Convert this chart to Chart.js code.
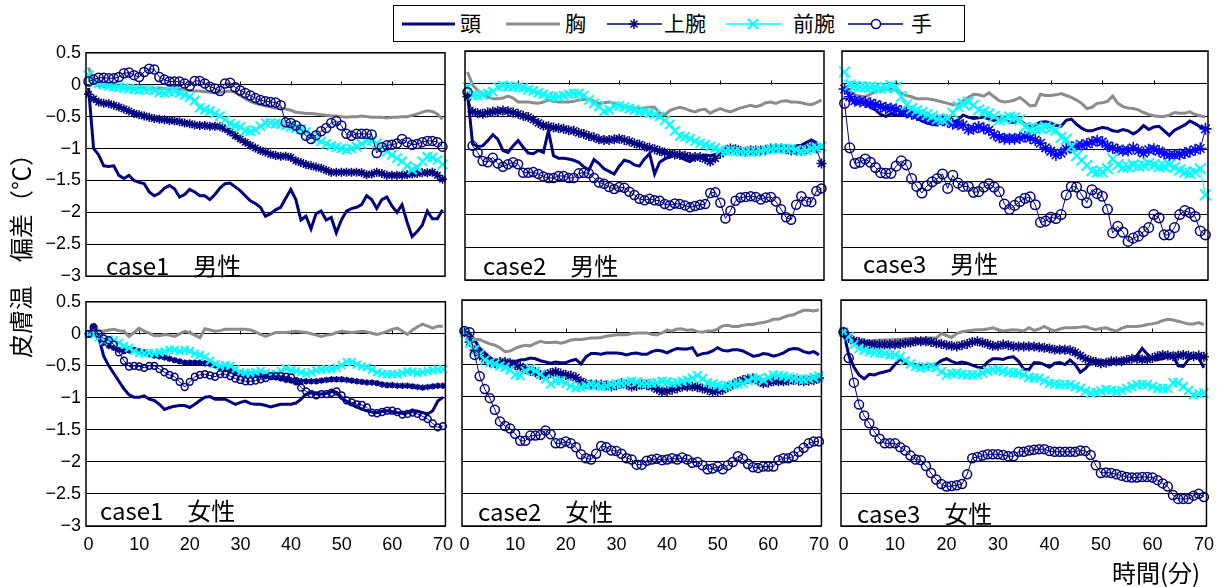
<!DOCTYPE html>
<html>
<head>
<meta charset="utf-8">
<script src="https://cdn.jsdelivr.net/npm/chart.js@4.4.1/dist/chart.umd.min.js"></script>
<style>
  body { margin: 0; width: 1220px; height: 587px; background: #fff; position: relative; overflow: hidden;
         font-family: "Noto Sans CJK JP", sans-serif; color: #000; }
  canvas { position: absolute; }
  .case { position: absolute; font-size: 24px; line-height: 24px; white-space: pre; }
  .leg { position: absolute; top: 6px; font-size: 21px; line-height: 21px; white-space: pre; }
</style>
</head>
<body>

<div id="legend" style="position:absolute;left:393px;top:5px;width:570px;height:35px;border:1px solid #000;">
  <svg width="570" height="35" style="position:absolute;left:0;top:0">
    <line x1="8" y1="18" x2="61" y2="18" stroke="#000080" stroke-width="3"/>
    <line x1="112" y1="18" x2="166" y2="18" stroke="#8c8c8c" stroke-width="3"/>
    <line x1="213" y1="18" x2="268" y2="18" stroke="#000080" stroke-width="1.5"/>
    <path d="M235 18 H245 M240 13 V23 M236.5 14.5 L243.5 21.5 M243.5 14.5 L236.5 21.5" stroke="#000080" stroke-width="1.5"/>
    <line x1="332" y1="18" x2="387" y2="18" stroke="#00ffff" stroke-width="1.5"/>
    <path d="M354 13 L364 23 M364 13 L354 23" stroke="#00ffff" stroke-width="2"/>
    <line x1="454" y1="18" x2="509" y2="18" stroke="#000080" stroke-width="1.5"/>
    <circle cx="482" cy="18" r="4.5" fill="#fff" stroke="#000080" stroke-width="1.5"/>
  </svg>
  <span class="leg" style="left:66px">頭</span>
  <span class="leg" style="left:171px">胸</span>
  <span class="leg" style="left:270px">上腕</span>
  <span class="leg" style="left:399px">前腕</span>
  <span class="leg" style="left:517px">手</span>
</div>

<canvas id="c1m"></canvas>
<canvas id="c2m"></canvas>
<canvas id="c3m"></canvas>
<canvas id="c1f"></canvas>
<canvas id="c2f"></canvas>
<canvas id="c3f"></canvas>

<div class="case" style="left:106px;top:253px">case1　男性</div>
<div class="case" style="left:483px;top:253px">case2　男性</div>
<div class="case" style="left:863px;top:251px">case3　男性</div>
<div class="case" style="left:100px;top:498px">case1　女性</div>
<div class="case" style="left:478px;top:499px">case2　女性</div>
<div class="case" style="left:857px;top:501px">case3　女性</div>

<div style="position:absolute;left:-95px;top:238px;width:230px;text-align:center;font-size:24px;line-height:24px;transform:rotate(-90deg);white-space:pre">皮膚温　偏差（℃）</div>
<div style="position:absolute;left:1112px;top:560px;font-size:24px;line-height:24px;white-space:pre">時間(分)</div>

<script>
// time axis (minutes)
const minutes = [0,1,2,3,4,5,6,7,8,9,10,11,12,13,14,15,16,17,18,19,20,21,22,23,24,25,26,27,28,29,30,
  31,32,33,34,35,36,37,38,39,40,41,42,43,44,45,46,47,48,49,50,51,52,53,54,55,56,57,58,59,60,
  61,62,63,64,65,66,67,68,69,70];
const xTicks = [0, 10, 20, 30, 40, 50, 60, 70];
const yTicks = [0.5, 0, -0.5, -1, -1.5, -2, -2.5, -3];
const yTickLabels = ['0.5', '0', '\u22120.5', '\u22121', '\u22121.5', '\u22122', '\u22122.5', '\u22123'];
const seriesNames = ['頭', '胸', '上腕', '前腕', '手'];

// case1 male
const c1mHead = [-0.05,-1.0,-1.1,-1.27,-1.28,-1.27,-1.42,-1.47,-1.42,-1.5,
  -1.53,-1.55,-1.68,-1.74,-1.7,-1.62,-1.58,-1.63,-1.76,-1.72,
  -1.64,-1.68,-1.74,-1.74,-1.8,-1.72,-1.62,-1.55,-1.54,-1.6,
  -1.66,-1.74,-1.82,-1.86,-1.92,-2.06,-2.02,-1.96,-1.92,-1.78,
  -1.64,-1.8,-2.12,-2.06,-2.26,-2.02,-1.98,-2.12,-2.08,-2.32,
  -2.12,-1.98,-1.94,-1.92,-1.88,-1.74,-1.8,-1.94,-1.8,-1.76,
  -1.9,-2.0,-1.88,-2.15,-2.38,-2.3,-2.2,-1.98,-2.1,-2.1,-1.96];
const c1mChest = [0.27,0.05,-0.02,-0.03,-0.02,-0.03,-0.04,-0.04,-0.05,-0.06,
  -0.05,-0.06,-0.07,-0.06,-0.05,-0.06,-0.07,-0.06,-0.07,-0.08,
  -0.09,-0.1,-0.1,-0.11,-0.12,-0.13,-0.12,-0.11,-0.1,-0.12,
  -0.17,-0.22,-0.26,-0.29,-0.31,-0.33,-0.35,-0.37,-0.37,-0.38,
  -0.4,-0.43,-0.44,-0.45,-0.45,-0.46,-0.47,-0.48,-0.49,-0.49,
  -0.5,-0.51,-0.5,-0.5,-0.49,-0.5,-0.51,-0.51,-0.51,-0.52,
  -0.51,-0.51,-0.5,-0.5,-0.48,-0.46,-0.43,-0.41,-0.42,-0.46,-0.54];
const c1mUpper = [-0.15,-0.22,-0.27,-0.29,-0.3,-0.32,-0.35,-0.38,-0.41,-0.45,
  -0.47,-0.49,-0.51,-0.53,-0.54,-0.55,-0.56,-0.57,-0.58,-0.6,
  -0.61,-0.63,-0.64,-0.64,-0.65,-0.65,-0.66,-0.69,-0.74,-0.8,
  -0.85,-0.9,-0.95,-0.99,-1.03,-1.06,-1.09,-1.11,-1.12,-1.12,
  -1.14,-1.19,-1.22,-1.25,-1.27,-1.29,-1.31,-1.34,-1.37,-1.37,
  -1.37,-1.37,-1.37,-1.37,-1.38,-1.41,-1.4,-1.37,-1.39,-1.42,
  -1.42,-1.42,-1.42,-1.41,-1.4,-1.39,-1.38,-1.38,-1.37,-1.42,-1.48];
const c1mFore = [0.15,0.04,0.02,0.0,-0.02,-0.03,-0.04,-0.05,-0.06,-0.07,
  -0.08,-0.08,-0.08,-0.09,-0.12,-0.13,-0.11,-0.1,-0.13,-0.16,
  -0.19,-0.25,-0.36,-0.39,-0.41,-0.45,-0.49,-0.55,-0.61,-0.64,
  -0.66,-0.72,-0.73,-0.71,-0.65,-0.6,-0.6,-0.61,-0.62,-0.64,
  -0.66,-0.68,-0.7,-0.74,-0.8,-0.85,-0.89,-0.93,-0.96,-0.98,
  -1.0,-1.02,-1.0,-0.97,-0.93,-0.88,-0.88,-0.92,-0.98,-1.05,
  -1.1,-1.15,-1.2,-1.27,-1.33,-1.3,-1.2,-1.13,-1.14,-1.18,-1.25];
const c1mHand = [0.05,0.08,0.11,0.11,0.1,0.1,0.12,0.18,0.19,0.15,
  0.12,0.2,0.25,0.24,0.12,0.08,0.05,0.05,0.05,0.02,
  -0.02,0.06,0.06,0.02,-0.03,-0.06,-0.1,0.02,0.03,-0.04,
  -0.09,-0.13,-0.17,-0.21,-0.24,-0.26,-0.27,-0.28,-0.32,-0.59,
  -0.6,-0.64,-0.7,-0.8,-0.85,-0.79,-0.73,-0.68,-0.6,-0.57,
  -0.64,-0.77,-0.8,-0.77,-0.77,-0.77,-0.78,-1.07,-0.98,-0.95,
  -0.94,-0.92,-0.85,-0.9,-0.94,-0.93,-0.9,-0.88,-0.88,-0.9,-0.97];

// case2 male
const c2mHead = [-0.15,-0.92,-0.96,-0.95,-0.87,-0.78,-0.85,-1.02,-1.05,-0.95,
  -0.87,-0.97,-1.06,-1.07,-1.02,-1.05,-0.72,-1.1,-1.14,-1.14,
  -1.15,-1.17,-1.2,-1.27,-1.32,-1.16,-1.22,-1.3,-1.34,-1.38,
  -1.26,-1.17,-1.19,-1.24,-1.26,-1.15,-1.07,-1.38,-1.2,-1.15,
  -1.12,-1.08,-1.12,-1.16,-1.19,-1.14,-1.11,-1.09,-1.1,-1.08,
  -1.06,-1.04,-1.02,-1.0,-1.0,-1.02,-1.0,-0.99,-1.0,-1.01,
  -1.0,-0.98,-0.98,-1.0,-0.97,-0.95,-0.94,-0.9,-0.86,-0.9,-0.98];
const c2mChest = [0.18,-0.02,-0.1,-0.16,-0.2,-0.23,-0.23,-0.22,-0.19,-0.22,
  -0.28,-0.28,-0.28,-0.29,-0.3,-0.28,-0.25,-0.27,-0.28,-0.28,
  -0.28,-0.27,-0.25,-0.24,-0.23,-0.27,-0.3,-0.29,-0.28,-0.3,
  -0.33,-0.35,-0.36,-0.37,-0.38,-0.37,-0.36,-0.36,-0.45,-0.48,
  -0.41,-0.38,-0.36,-0.38,-0.41,-0.43,-0.4,-0.39,-0.45,-0.41,
  -0.38,-0.41,-0.43,-0.4,-0.37,-0.35,-0.33,-0.35,-0.33,-0.29,
  -0.28,-0.3,-0.27,-0.26,-0.28,-0.28,-0.29,-0.31,-0.32,-0.29,-0.25];
const c2mUpper = [-0.2,-0.43,-0.45,-0.46,-0.44,-0.43,-0.42,-0.41,-0.42,-0.44,
  -0.46,-0.49,-0.51,-0.55,-0.6,-0.64,-0.65,-0.67,-0.68,-0.69,
  -0.71,-0.72,-0.75,-0.77,-0.8,-0.82,-0.85,-0.86,-0.86,-0.85,
  -0.84,-0.86,-0.88,-0.91,-0.93,-0.96,-0.98,-1.0,-1.03,-1.05,
  -1.07,-1.08,-1.09,-1.1,-1.12,-1.12,-1.12,-1.15,-1.19,-1.14,
  -1.07,-1.02,-0.99,-1.0,-1.03,-1.04,-1.02,-1.02,-1.02,-1.01,
  -0.99,-0.99,-0.99,-1.0,-1.02,-1.02,-1.02,-1.0,-0.97,-0.99,-1.22];
const c2mFore = [-0.05,-0.18,-0.18,-0.17,-0.15,-0.12,-0.05,-0.03,-0.04,-0.05,
  -0.05,-0.06,-0.09,-0.11,-0.14,-0.16,-0.19,-0.2,-0.2,-0.18,
  -0.16,-0.15,-0.15,-0.18,-0.25,-0.3,-0.35,-0.42,-0.4,-0.34,
  -0.34,-0.36,-0.38,-0.4,-0.42,-0.43,-0.45,-0.47,-0.5,-0.56,
  -0.62,-0.72,-0.8,-0.81,-0.84,-0.88,-0.91,-0.93,-0.96,-0.98,
  -1.02,-1.03,-1.02,-1.03,-1.04,-1.04,-1.04,-1.04,-1.03,-1.01,
  -1.0,-0.99,-0.99,-0.99,-0.99,-1.01,-1.03,-1.02,-0.99,-0.98,-0.96];
const c2mHand = [-0.13,-0.95,-1.05,-1.18,-1.2,-1.13,-1.22,-1.27,-1.23,-1.2,
  -1.23,-1.36,-1.36,-1.35,-1.38,-1.42,-1.44,-1.44,-1.41,-1.41,
  -1.44,-1.44,-1.37,-1.36,-1.37,-1.44,-1.51,-1.53,-1.58,-1.61,
  -1.58,-1.59,-1.65,-1.7,-1.76,-1.78,-1.76,-1.78,-1.79,-1.84,
  -1.86,-1.83,-1.84,-1.86,-1.89,-1.87,-1.85,-1.84,-1.67,-1.66,
  -1.82,-2.06,-1.94,-1.79,-1.74,-1.73,-1.72,-1.73,-1.77,-1.74,
  -1.73,-1.8,-1.92,-2.04,-2.08,-1.85,-1.72,-1.8,-1.81,-1.64,-1.6];

// case3 male
const c3mHead = [-0.05,-0.2,-0.3,-0.27,-0.29,-0.36,-0.4,-0.47,-0.5,-0.46,
  -0.48,-0.47,-0.46,-0.48,-0.52,-0.57,-0.6,-0.62,-0.63,-0.57,
  -0.57,-0.61,-0.55,-0.48,-0.51,-0.53,-0.52,-0.51,-0.54,-0.56,
  -0.54,-0.54,-0.59,-0.59,-0.56,-0.62,-0.66,-0.63,-0.59,-0.58,
  -0.6,-0.64,-0.65,-0.56,-0.54,-0.62,-0.68,-0.72,-0.72,-0.69,
  -0.67,-0.68,-0.72,-0.73,-0.7,-0.72,-0.77,-0.72,-0.64,-0.7,
  -0.66,-0.65,-0.72,-0.79,-0.71,-0.67,-0.63,-0.57,-0.61,-0.66,-0.69];
const c3mChest = [-0.05,-0.12,-0.17,-0.19,-0.2,-0.16,-0.12,-0.1,-0.08,-0.08,
  -0.1,-0.14,-0.18,-0.2,-0.23,-0.23,-0.23,-0.24,-0.26,-0.28,
  -0.3,-0.32,-0.32,-0.26,-0.21,-0.16,-0.17,-0.19,-0.14,-0.2,
  -0.26,-0.28,-0.27,-0.25,-0.21,-0.27,-0.34,-0.33,-0.16,-0.18,
  -0.18,-0.17,-0.15,-0.18,-0.21,-0.25,-0.3,-0.38,-0.36,-0.3,
  -0.29,-0.27,-0.19,-0.3,-0.35,-0.37,-0.38,-0.4,-0.44,-0.47,
  -0.49,-0.5,-0.5,-0.48,-0.44,-0.45,-0.45,-0.43,-0.47,-0.49,-0.51];
const c3mUpper = [-0.08,-0.2,-0.26,-0.27,-0.28,-0.3,-0.32,-0.35,-0.37,-0.38,
  -0.39,-0.42,-0.44,-0.46,-0.48,-0.5,-0.53,-0.56,-0.56,-0.56,
  -0.58,-0.61,-0.62,-0.63,-0.7,-0.69,-0.66,-0.68,-0.71,-0.78,
  -0.82,-0.84,-0.84,-0.84,-0.83,-0.81,-0.83,-0.86,-0.91,-0.98,
  -1.03,-1.09,-1.06,-1.0,-0.97,-0.95,-0.94,-0.92,-0.89,-0.87,
  -0.89,-0.95,-0.98,-1.01,-1.02,-1.02,-0.98,-1.02,-1.06,-1.01,
  -1.0,-1.03,-1.07,-1.09,-1.09,-1.08,-1.06,-1.04,-1.01,-0.99,-0.69];
const c3mFore = [0.18,-0.02,-0.04,-0.05,-0.05,-0.05,-0.06,-0.07,-0.06,-0.03,
  -0.05,-0.2,-0.32,-0.38,-0.41,-0.44,-0.47,-0.5,-0.54,-0.55,
  -0.53,-0.45,-0.35,-0.31,-0.28,-0.33,-0.4,-0.43,-0.46,-0.5,
  -0.56,-0.54,-0.51,-0.52,-0.55,-0.66,-0.69,-0.69,-0.68,-0.66,
  -0.68,-0.71,-0.82,-0.85,-0.96,-1.1,-1.17,-1.25,-1.33,-1.35,
  -1.35,-1.3,-1.15,-1.24,-1.28,-1.27,-1.24,-1.26,-1.25,-1.22,
  -1.24,-1.27,-1.26,-1.24,-1.28,-1.32,-1.35,-1.37,-1.35,-1.3,-1.7];
const c3mHand = [-0.3,-0.98,-1.22,-1.2,-1.15,-1.2,-1.28,-1.36,-1.37,-1.37,
  -1.26,-1.18,-1.24,-1.45,-1.57,-1.67,-1.56,-1.5,-1.45,-1.38,
  -1.6,-1.4,-1.52,-1.57,-1.57,-1.66,-1.65,-1.58,-1.53,-1.58,
  -1.65,-1.84,-1.92,-1.86,-1.8,-1.75,-1.73,-1.85,-2.12,-2.1,
  -2.04,-2.06,-2.0,-1.7,-1.57,-1.58,-1.7,-1.82,-1.62,-1.68,
  -1.72,-1.92,-2.28,-2.18,-2.27,-2.41,-2.36,-2.33,-2.26,-2.2,
  -2.0,-2.05,-2.31,-2.31,-2.2,-2.0,-1.94,-1.97,-2.03,-2.25,-2.31];

// case1 female
const c1fHead = [0.0,0.1,-0.05,-0.35,-0.5,-0.62,-0.74,-0.86,-0.95,-0.99,
  -0.99,-0.97,-1.02,-1.04,-1.1,-1.18,-1.15,-1.13,-1.12,-1.12,
  -1.15,-1.1,-1.04,-0.99,-0.98,-1.02,-1.02,-1.02,-1.06,-1.1,
  -1.07,-1.05,-1.09,-1.1,-1.1,-1.12,-1.14,-1.12,-1.1,-1.1,
  -1.1,-1.08,-1.02,-0.94,-0.92,-0.93,-0.94,-0.93,-0.9,-0.91,
  -1.01,-1.06,-1.1,-1.14,-1.18,-1.2,-1.22,-1.23,-1.21,-1.2,
  -1.22,-1.23,-1.24,-1.23,-1.2,-1.21,-1.23,-1.25,-1.2,-1.05,-0.99];
const c1fChest = [0.0,0.09,0.05,0.04,0.06,0.07,0.05,0.04,-0.04,0.02,
  0.09,0.04,0.01,-0.03,-0.03,-0.01,-0.02,-0.04,0.0,0.04,
  0.02,-0.02,-0.06,0.08,0.06,0.04,0.05,0.07,0.07,0.07,
  0.07,0.07,0.06,0.03,-0.01,-0.04,-0.01,0.02,0.02,0.02,
  0.03,0.04,0.03,0.02,0.0,-0.02,-0.04,-0.02,-0.01,0.02,
  0.04,0.03,0.02,0.03,0.04,0.03,0.01,-0.01,0.01,0.04,
  0.07,0.09,0.04,-0.01,0.06,0.11,0.15,0.12,0.09,0.12,0.12];
const c1fUpper = [0.0,0.12,-0.05,-0.14,-0.19,-0.22,-0.25,-0.27,-0.26,-0.25,
  -0.27,-0.29,-0.32,-0.34,-0.35,-0.37,-0.39,-0.41,-0.43,-0.45,
  -0.45,-0.45,-0.45,-0.46,-0.47,-0.49,-0.52,-0.55,-0.57,-0.6,
  -0.62,-0.63,-0.63,-0.64,-0.65,-0.66,-0.67,-0.68,-0.7,-0.72,
  -0.73,-0.74,-0.74,-0.74,-0.74,-0.74,-0.73,-0.72,-0.71,-0.71,
  -0.71,-0.72,-0.73,-0.74,-0.75,-0.76,-0.76,-0.77,-0.79,-0.8,
  -0.8,-0.81,-0.81,-0.81,-0.82,-0.83,-0.84,-0.83,-0.82,-0.81,-0.81];
const c1fFore = [0.0,-0.01,-0.06,-0.11,-0.09,-0.1,-0.14,-0.19,-0.22,-0.27,
  -0.3,-0.3,-0.3,-0.3,-0.29,-0.28,-0.25,-0.25,-0.27,-0.25,
  -0.27,-0.31,-0.33,-0.36,-0.42,-0.47,-0.5,-0.49,-0.5,-0.55,
  -0.6,-0.61,-0.61,-0.6,-0.58,-0.61,-0.63,-0.63,-0.58,-0.54,
  -0.57,-0.58,-0.6,-0.62,-0.6,-0.57,-0.56,-0.55,-0.55,-0.53,
  -0.49,-0.44,-0.44,-0.48,-0.51,-0.52,-0.56,-0.6,-0.62,-0.63,
  -0.63,-0.63,-0.61,-0.59,-0.59,-0.61,-0.6,-0.58,-0.57,-0.56,-0.55];
const c1fHand = [0.0,0.1,0.0,-0.07,-0.1,-0.17,-0.29,-0.42,-0.51,-0.5,
  -0.51,-0.53,-0.5,-0.5,-0.55,-0.6,-0.64,-0.67,-0.75,-0.83,
  -0.75,-0.67,-0.64,-0.63,-0.65,-0.67,-0.63,-0.63,-0.66,-0.7,
  -0.72,-0.74,-0.74,-0.73,-0.71,-0.69,-0.66,-0.66,-0.66,-0.67,
  -0.68,-0.74,-0.84,-0.9,-0.94,-0.96,-0.94,-0.94,-0.92,-0.9,
  -0.96,-1.04,-1.07,-1.1,-1.11,-1.15,-1.23,-1.24,-1.22,-1.2,
  -1.2,-1.22,-1.26,-1.25,-1.23,-1.25,-1.29,-1.33,-1.4,-1.46,-1.44];

// case2 female
const c2fHead = [0.0,-0.02,-0.12,-0.25,-0.32,-0.39,-0.44,-0.45,-0.45,-0.45,
  -0.45,-0.43,-0.42,-0.4,-0.41,-0.44,-0.46,-0.48,-0.46,-0.47,
  -0.47,-0.44,-0.42,-0.49,-0.38,-0.33,-0.33,-0.34,-0.32,-0.32,
  -0.32,-0.33,-0.35,-0.33,-0.32,-0.34,-0.34,-0.3,-0.28,-0.29,
  -0.32,-0.28,-0.25,-0.26,-0.26,-0.24,-0.36,-0.33,-0.32,-0.29,
  -0.24,-0.28,-0.29,-0.27,-0.27,-0.29,-0.33,-0.37,-0.36,-0.33,
  -0.34,-0.37,-0.35,-0.32,-0.27,-0.25,-0.26,-0.3,-0.32,-0.3,-0.35];
const c2fChest = [0.0,-0.08,-0.11,-0.11,-0.15,-0.18,-0.2,-0.24,-0.3,-0.29,
  -0.25,-0.22,-0.2,-0.21,-0.17,-0.14,-0.16,-0.16,-0.15,-0.17,
  -0.15,-0.12,-0.11,-0.11,-0.1,-0.09,-0.09,-0.08,-0.06,-0.05,
  -0.04,-0.04,-0.04,-0.02,-0.01,-0.01,-0.01,-0.03,-0.04,-0.01,
  0.03,0.02,0.05,0.05,0.03,0.04,0.01,0.0,0.02,0.02,
  0.05,0.1,0.11,0.09,0.09,0.11,0.12,0.12,0.14,0.15,
  0.17,0.2,0.2,0.23,0.26,0.27,0.31,0.34,0.34,0.33,0.35];
const c2fUpper = [0.0,-0.15,-0.28,-0.36,-0.41,-0.46,-0.48,-0.46,-0.46,-0.48,
  -0.51,-0.53,-0.57,-0.6,-0.62,-0.66,-0.66,-0.63,-0.61,-0.64,
  -0.66,-0.67,-0.7,-0.76,-0.8,-0.81,-0.81,-0.81,-0.82,-0.84,
  -0.82,-0.79,-0.81,-0.84,-0.83,-0.81,-0.82,-0.84,-0.88,-0.92,
  -0.91,-0.89,-0.87,-0.84,-0.84,-0.84,-0.85,-0.87,-0.89,-0.92,
  -0.91,-0.89,-0.85,-0.81,-0.77,-0.74,-0.72,-0.71,-0.75,-0.79,
  -0.78,-0.76,-0.76,-0.76,-0.75,-0.74,-0.75,-0.76,-0.75,-0.74,-0.71];
const c2fFore = [0.0,-0.17,-0.27,-0.34,-0.43,-0.47,-0.49,-0.52,-0.54,-0.58,
  -0.66,-0.67,-0.6,-0.56,-0.6,-0.65,-0.72,-0.8,-0.75,-0.75,
  -0.79,-0.83,-0.86,-0.85,-0.83,-0.81,-0.82,-0.84,-0.83,-0.81,
  -0.8,-0.79,-0.78,-0.76,-0.77,-0.79,-0.79,-0.79,-0.78,-0.76,
  -0.77,-0.79,-0.78,-0.76,-0.74,-0.71,-0.67,-0.72,-0.78,-0.8,
  -0.82,-0.84,-0.83,-0.81,-0.8,-0.79,-0.75,-0.71,-0.72,-0.74,
  -0.7,-0.66,-0.67,-0.68,-0.7,-0.71,-0.73,-0.73,-0.72,-0.7,-0.68];
const c2fHand = [0.02,0.0,-0.35,-0.68,-0.88,-1.02,-1.2,-1.38,-1.45,-1.49,
  -1.57,-1.68,-1.68,-1.6,-1.6,-1.59,-1.52,-1.58,-1.72,-1.72,
  -1.69,-1.72,-1.78,-1.89,-1.95,-1.97,-1.88,-1.76,-1.78,-1.83,
  -1.84,-1.88,-1.95,-1.97,-2.05,-2.05,-1.99,-1.97,-1.96,-1.98,
  -1.97,-1.95,-1.97,-1.94,-1.97,-2.02,-2.01,-2.06,-2.12,-2.11,
  -2.08,-2.12,-2.06,-2.01,-1.92,-1.96,-2.04,-2.09,-2.1,-2.08,
  -2.08,-2.08,-1.98,-1.95,-1.95,-1.92,-1.85,-1.79,-1.72,-1.69,-1.69];

// case3 female
const c3fHead = [0.0,-0.35,-0.54,-0.66,-0.72,-0.65,-0.66,-0.63,-0.61,-0.59,
  -0.5,-0.41,-0.47,-0.49,-0.5,-0.53,-0.54,-0.52,-0.5,-0.44,
  -0.41,-0.45,-0.48,-0.46,-0.48,-0.51,-0.54,-0.55,-0.46,-0.41,
  -0.41,-0.42,-0.39,-0.38,-0.45,-0.57,-0.58,-0.47,-0.47,-0.5,
  -0.54,-0.48,-0.47,-0.5,-0.43,-0.5,-0.62,-0.56,-0.46,-0.43,
  -0.45,-0.45,-0.45,-0.44,-0.42,-0.42,-0.41,-0.36,-0.25,-0.34,
  -0.41,-0.42,-0.41,-0.38,-0.36,-0.52,-0.53,-0.42,-0.38,-0.4,-0.55];
const c3fChest = [0.0,-0.08,-0.12,-0.13,-0.14,-0.14,-0.13,-0.12,-0.12,-0.12,
  -0.11,-0.11,-0.1,-0.1,-0.1,-0.1,-0.09,-0.09,-0.09,-0.02,
  -0.05,-0.08,-0.02,0.01,0.02,0.03,0.04,0.04,0.05,0.07,
  0.04,0.02,0.03,0.04,0.03,0.02,0.07,0.03,0.05,0.09,
  0.05,0.02,0.05,0.07,0.07,0.07,0.08,0.09,0.06,0.04,
  0.06,0.07,0.04,0.02,0.06,0.09,0.09,0.09,0.1,0.12,
  0.13,0.15,0.18,0.2,0.19,0.17,0.15,0.13,0.13,0.15,0.12];
const c3fUpper = [0.0,-0.09,-0.13,-0.15,-0.17,-0.18,-0.19,-0.19,-0.19,-0.19,
  -0.19,-0.18,-0.17,-0.16,-0.14,-0.14,-0.14,-0.15,-0.17,-0.18,
  -0.2,-0.21,-0.22,-0.2,-0.18,-0.15,-0.14,-0.16,-0.18,-0.21,
  -0.21,-0.19,-0.2,-0.22,-0.22,-0.22,-0.22,-0.22,-0.23,-0.24,
  -0.25,-0.27,-0.27,-0.27,-0.28,-0.31,-0.36,-0.41,-0.44,-0.46,
  -0.48,-0.47,-0.45,-0.45,-0.45,-0.43,-0.41,-0.41,-0.42,-0.42,
  -0.4,-0.37,-0.35,-0.36,-0.37,-0.36,-0.35,-0.36,-0.37,-0.36,-0.38];
const c3fFore = [0.0,-0.07,-0.19,-0.25,-0.28,-0.3,-0.32,-0.32,-0.33,-0.35,
  -0.35,-0.38,-0.44,-0.49,-0.53,-0.55,-0.54,-0.53,-0.55,-0.61,
  -0.66,-0.64,-0.63,-0.65,-0.66,-0.66,-0.66,-0.63,-0.6,-0.58,
  -0.58,-0.6,-0.62,-0.63,-0.63,-0.66,-0.7,-0.71,-0.71,-0.75,
  -0.79,-0.8,-0.81,-0.81,-0.81,-0.84,-0.87,-0.91,-0.94,-0.93,
  -0.91,-0.89,-0.9,-0.92,-0.9,-0.87,-0.84,-0.81,-0.81,-0.81,
  -0.84,-0.87,-0.87,-0.87,-0.78,-0.78,-0.84,-0.9,-0.97,-0.95,-0.94];
const c3fHand = [0.0,-0.4,-0.78,-1.12,-1.29,-1.41,-1.54,-1.65,-1.72,-1.72,
  -1.72,-1.78,-1.83,-1.91,-1.97,-1.98,-2.07,-2.18,-2.28,-2.35,
  -2.39,-2.38,-2.37,-2.35,-2.2,-1.95,-1.93,-1.91,-1.89,-1.89,
  -1.89,-1.9,-1.92,-1.92,-1.85,-1.85,-1.83,-1.82,-1.81,-1.81,
  -1.84,-1.85,-1.85,-1.85,-1.85,-1.85,-1.83,-1.84,-1.9,-2.06,
  -2.18,-2.17,-2.18,-2.2,-2.22,-2.24,-2.25,-2.25,-2.24,-2.24,
  -2.25,-2.29,-2.34,-2.39,-2.52,-2.58,-2.58,-2.58,-2.53,-2.5,-2.55];

const NAVY = '#000080';
const GRAY = '#8c8c8c';
const CYAN = '#00ffff';

Chart.defaults.font.family = '"Liberation Sans", Arial, sans-serif';
Chart.defaults.color = '#000';

// box around the plot area and the little ticks on the zero line
const framePlugin = {
  id: 'frame',
  beforeDatasetsDraw(chart) {
    const { ctx, scales } = chart;
    const y0 = Math.round(scales.y.getPixelForValue(0)) + 0.5;
    ctx.save();
    ctx.strokeStyle = '#000';
    ctx.lineWidth = 1;
    xTicks.forEach(v => {
      if (v === 0 || v === 70) return;
      const x = Math.round(scales.x.getPixelForValue(v)) + 0.5;
      ctx.beginPath();
      ctx.moveTo(x, y0);
      ctx.lineTo(x, y0 - 4);
      ctx.stroke();
    });
    ctx.restore();
  },
  afterDatasetsDraw(chart) {
    const { ctx, chartArea: a } = chart;
    ctx.save();
    ctx.strokeStyle = '#000';
    ctx.lineWidth = 1.5;
    ctx.strokeRect(a.left, a.top, a.right - a.left, a.bottom - a.top);
    ctx.restore();
  }
};

function pts(vals) {
  return minutes.map((m, i) => ({ x: m, y: vals[i] }));
}

function drawPanel(id, frame, s, opt) {
  const xH = opt.bottomRow ? 40 : 12;
  const yW = 60, padT = 14, padR = 14;
  const canvas = document.getElementById(id);
  const w = frame.r - frame.l + yW + padR;
  const h = frame.b - frame.t + padT + xH;
  canvas.width = w;
  canvas.height = h;
  canvas.style.width = w + 'px';
  canvas.style.height = h + 'px';
  canvas.style.left = (frame.l - yW) + 'px';
  canvas.style.top = (frame.t - padT) + 'px';

  new Chart(canvas, {
    type: 'line',
    data: {
      datasets: [
        { label: seriesNames[0], data: pts(s[0]), borderColor: NAVY, borderWidth: 3,
          pointRadius: 0, order: 5 },
        { label: seriesNames[1], data: pts(s[1]), borderColor: GRAY, borderWidth: 3,
          pointRadius: 0, order: 4 },
        { label: seriesNames[2], data: pts(s[2]), borderColor: opt.upperColor, borderWidth: 1,
          pointStyle: 'star', pointRadius: opt.starR, pointBorderWidth: 1.6,
          pointBorderColor: opt.upperColor, order: 3 },
        { label: seriesNames[3], data: pts(s[3]), borderColor: CYAN, borderWidth: 1,
          pointStyle: 'crossRot', pointRadius: opt.crossR, pointBorderWidth: 2,
          pointBorderColor: CYAN, order: 2 },
        { label: seriesNames[4], data: pts(s[4]), borderColor: NAVY, borderWidth: 1,
          pointStyle: 'circle', pointRadius: opt.circleR, pointBorderWidth: 1.5,
          pointBorderColor: NAVY, pointBackgroundColor: 'rgba(0,0,0,0)', order: 1 }
      ]
    },
    options: {
      responsive: false,
      animation: false,
      clip: false,
      layout: { padding: { top: padT, right: padR, left: 0, bottom: 0 } },
      plugins: { legend: { display: false }, tooltip: { enabled: false } },
      scales: {
        x: {
          type: 'linear',
          min: -0.5,
          max: 70.5,
          afterBuildTicks: sc => { sc.ticks = xTicks.map(v => ({ value: v })); },
          afterFit: sc => { sc.height = xH; },
          grid: { display: false, drawTicks: false },
          border: { display: false },
          ticks: { display: opt.bottomRow, padding: 8, maxRotation: 0, autoSkip: false,
                   font: { size: 18 }, color: '#000' }
        },
        y: {
          min: -3,
          max: 0.5,
          afterBuildTicks: sc => { sc.ticks = yTicks.map(v => ({ value: v })); },
          afterFit: sc => { sc.width = yW; },
          grid: { color: '#000', lineWidth: 1, drawTicks: false },
          border: { display: false },
          ticks: { display: opt.leftCol, padding: 5, font: { size: 18 }, color: '#000',
                   callback: (v, i) => yTickLabels[i] }
        }
      }
    },
    plugins: [framePlugin]
  });
}

drawPanel('c1m', { l: 86, t: 51, r: 445, b: 280 },
  [c1mHead, c1mChest, c1mUpper, c1mFore, c1mHand],
  { bottomRow: false, leftCol: true, upperColor: NAVY, starR: 4.5, crossR: 6.5, circleR: 4.5 });
drawPanel('c2m', { l: 465, t: 51, r: 824, b: 280 },
  [c2mHead, c2mChest, c2mUpper, c2mFore, c2mHand],
  { bottomRow: false, leftCol: false, upperColor: NAVY, starR: 5, crossR: 6.5, circleR: 4.5 });
drawPanel('c3m', { l: 842, t: 51, r: 1208, b: 280 },
  [c3mHead, c3mChest, c3mUpper, c3mFore, c3mHand],
  { bottomRow: false, leftCol: false, upperColor: '#0000ff', starR: 6, crossR: 7.5, circleR: 4.8 });
drawPanel('c1f', { l: 86, t: 300, r: 447, b: 526 },
  [c1fHead, c1fChest, c1fUpper, c1fFore, c1fHand],
  { bottomRow: true, leftCol: true, upperColor: NAVY, starR: 3.2, crossR: 5.5, circleR: 3.4 });
drawPanel('c2f', { l: 462, t: 300, r: 823, b: 526 },
  [c2fHead, c2fChest, c2fUpper, c2fFore, c2fHand],
  { bottomRow: true, leftCol: false, upperColor: NAVY, starR: 5, crossR: 6.3, circleR: 4.5 });
drawPanel('c3f', { l: 841, t: 300, r: 1208, b: 526 },
  [c3fHead, c3fChest, c3fUpper, c3fFore, c3fHand],
  { bottomRow: true, leftCol: false, upperColor: NAVY, starR: 5, crossR: 6.3, circleR: 4.5 });
</script>
</body>
</html>
